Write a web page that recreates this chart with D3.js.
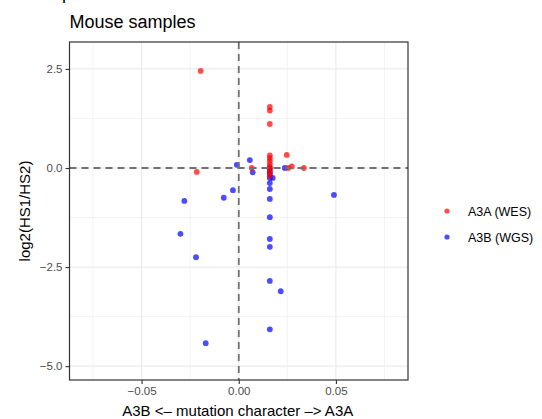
<!DOCTYPE html>
<html><head><meta charset="utf-8">
<script src="https://cdn.jsdelivr.net/npm/d3@7"></script>
<style>body{margin:0;background:#fff;} text{font-family:"Liberation Sans",Arial,sans-serif;}</style>
</head><body>
<svg id="c" width="542" height="419"></svg>
<script>
const wesX = [-0.0196, -0.0216, 0.016, 0.016, 0.016, 0.016, 0.016, 0.016, 0.016, 0.016, 0.016, 0.016, 0.016, 0.0247, 0.0067, 0.0273, 0.0255, 0.0335];
const wesY = [2.45, -0.10, 1.54, 1.45, 1.11, 0.32, 0.25, 0.18, 0.10, 0.03, -0.04, -0.12, -0.20, 0.33, 0.0, 0.04, 0.0, 0.0];
const wgsX = [-0.001, 0.0057, 0.0072, -0.003, -0.0077, -0.028, -0.030, -0.022, -0.017, 0.0237, 0.049, 0.0175, 0.016, 0.016, 0.016, 0.016, 0.016, 0.016, 0.016, 0.016, 0.016, 0.016, 0.016, 0.016, 0.0216];
const wgsY = [0.08, 0.20, -0.11, -0.56, -0.75, -0.83, -1.66, -2.25, -4.42, 0.0, -0.68, -0.25, 0.0, -0.08, -0.15, -0.25, -0.38, -0.53, -0.78, -1.24, -1.79, -1.99, -2.85, -4.07, -3.11];
const xTicks = [-0.05, 0, 0.05];
const xTickLabels = ["\u22120.05", "0.00", "0.05"];
const yTicks = [2.5, 0, -2.5, -5];
const yTickLabels = ["2.5", "0.0", "\u22122.5", "\u22125.0"];
const xMinor = [-0.075, -0.025, 0.025, 0.075];
const yMinor = [1.25, -1.25, -3.75];
const seriesNames = ["A3A (WES)", "A3B (WGS)"];
const seriesColors = ["#ff0000", "#0000ff"];

const svg = d3.select("#c");
const L = 69.5, R = 408, T = 42, B = 380;
const x = d3.scaleLinear().domain([-0.0871, 0.0871]).range([L, R]);
const y = d3.scaleLinear().domain([-5.35, 3.18]).range([B, T]);

const g = svg.append("g");
g.selectAll(".xm").data(xMinor).enter().append("line")
  .attr("x1", d => x(d)).attr("x2", d => x(d)).attr("y1", T).attr("y2", B)
  .attr("stroke", "#ebebeb").attr("stroke-width", 0.6);
g.selectAll(".ym").data(yMinor).enter().append("line")
  .attr("y1", d => y(d)).attr("y2", d => y(d)).attr("x1", L).attr("x2", R)
  .attr("stroke", "#ebebeb").attr("stroke-width", 0.6);
g.selectAll(".xg").data(xTicks).enter().append("line")
  .attr("x1", d => x(d)).attr("x2", d => x(d)).attr("y1", T).attr("y2", B)
  .attr("stroke", "#ebebeb").attr("stroke-width", 1.2);
g.selectAll(".yg").data(yTicks).enter().append("line")
  .attr("y1", d => y(d)).attr("y2", d => y(d)).attr("x1", L).attr("x2", R)
  .attr("stroke", "#ebebeb").attr("stroke-width", 1.2);

const wgs = wgsX.map((v, i) => ({x: v, y: wgsY[i]}));
const wes = wesX.map((v, i) => ({x: v, y: wesY[i]}));
g.selectAll(".pb").data(wgs).enter().append("circle")
  .attr("cx", d => x(d.x)).attr("cy", d => y(d.y)).attr("r", 2.9)
  .attr("fill", seriesColors[1]).attr("fill-opacity", 0.7);
g.selectAll(".pr").data(wes).enter().append("circle")
  .attr("cx", d => x(d.x)).attr("cy", d => y(d.y)).attr("r", 2.9)
  .attr("fill", seriesColors[0]).attr("fill-opacity", 0.7);

g.append("line").attr("x1", L).attr("x2", R).attr("y1", y(0)).attr("y2", y(0))
  .attr("stroke", "#707070").attr("stroke-width", 1.8).attr("stroke-dasharray", "7,5");
g.append("line").attr("x1", x(0)).attr("x2", x(0)).attr("y1", T).attr("y2", B)
  .attr("stroke", "#707070").attr("stroke-width", 1.8).attr("stroke-dasharray", "7,5");

g.append("rect").attr("x", L).attr("y", T).attr("width", R - L).attr("height", B - T)
  .attr("fill", "none").attr("stroke", "#333333").attr("stroke-width", 1.2);

const xAxis = d3.axisBottom(x).tickValues(xTicks).tickFormat((d, i) => xTickLabels[i]).tickSize(4).tickPadding(3);
const xa = svg.append("g").attr("transform", `translate(0,${B})`).call(xAxis);
xa.select(".domain").remove();
xa.selectAll("line").attr("stroke", "#333333").attr("stroke-width", 1.1);
xa.selectAll("text").attr("fill", "#4d4d4d").attr("font-size", 11.5).attr("font-family", "Liberation Sans, Arial, sans-serif");

const yAxis = d3.axisLeft(y).tickValues(yTicks).tickFormat((d, i) => yTickLabels[i]).tickSize(4).tickPadding(3);
const ya = svg.append("g").attr("transform", `translate(${L},0)`).call(yAxis);
ya.select(".domain").remove();
ya.selectAll("line").attr("stroke", "#333333").attr("stroke-width", 1.1);
ya.selectAll("text").attr("fill", "#4d4d4d").attr("font-size", 11.5).attr("font-family", "Liberation Sans, Arial, sans-serif");

svg.append("text").attr("x", 62).attr("y", -1).attr("font-size", 18).attr("fill", "#000").text("p");
svg.append("text").attr("x", L).attr("y", 28).attr("font-size", 18).attr("fill", "#000").text("Mouse samples");
svg.append("text").attr("x", (L + R) / 2 - 1).attr("y", 416).attr("text-anchor", "middle")
  .attr("font-size", 15).attr("fill", "#000").text("A3B <\u2013 mutation character \u2013> A3A");
svg.append("text").attr("transform", `translate(30,${(T + B) / 2}) rotate(-90)`).attr("text-anchor", "middle")
  .attr("font-size", 15).attr("fill", "#000").text("log2(HS1/HS2)");

const lg = svg.append("g");
seriesNames.forEach((n, i) => {
  const cy = 211 + i * 26;
  lg.append("circle").attr("cx", 447).attr("cy", cy).attr("r", 2.6).attr("fill", seriesColors[i]).attr("fill-opacity", 0.7);
  lg.append("text").attr("x", 468).attr("y", cy + 4.5).attr("font-size", 12.5).attr("fill", "#000").text(n);
});
</script>
</body></html>
